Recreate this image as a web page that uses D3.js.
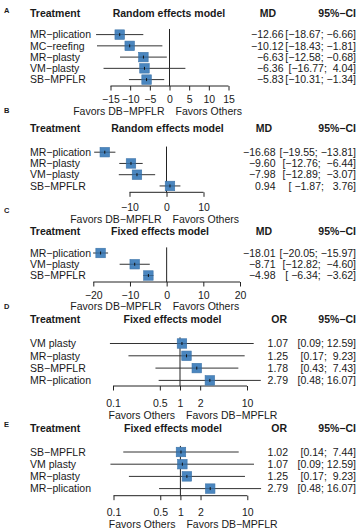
<!DOCTYPE html>
<html><head><meta charset="utf-8">
<script src="https://cdn.jsdelivr.net/npm/d3@7"></script>
<style>
html,body{margin:0;padding:0;background:#fff;}
svg text{font-family:"Liberation Sans",Arial,Helvetica,sans-serif;fill:#1a1a1a;white-space:pre;}
</style></head>
<body>
<svg id="chart" width="358" height="532" xml:space="preserve"></svg>
<script>
// ---------- DATA ----------
const treatA = ["MR−plication","MC−reefing","MR−plasty","VM−plasty","SB−MPFLR"];
const estA   = [-12.66,-10.12,-6.63,-6.36,-5.83];
const lowA   = [-18.67,-18.43,-12.58,-16.77,-10.31];
const upA    = [-6.66,-1.81,-0.68,4.04,-1.34];
const ticksA = [-15,-10,-5,0,5,10,15];

const treatB = ["MR−plication","MR−plasty","VM−plasty","SB−MPFLR"];
const estB   = [-16.68,-9.60,-7.98,0.94];
const lowB   = [-19.55,-12.76,-12.89,-1.87];
const upB    = [-13.81,-6.44,-3.07,3.76];
const ticksB = [-10,0,10];

const treatC = ["MR−plication","VM−plasty","SB−MPFLR"];
const estC   = [-18.01,-8.71,-4.98];
const lowC   = [-20.05,-12.82,-6.34];
const upC    = [-15.97,-4.60,-3.62];
const ticksC = [-20,-10,0,10,20];

const treatD = ["VM plasty","MR−plasty","SB−MPFLR","MR−plication"];
const estD   = [1.07,1.25,1.78,2.79];
const lowD   = [0.09,0.17,0.43,0.48];
const upD    = [12.59,9.23,7.43,16.07];
const ticksD = [0.1,0.5,1,2,10];

const treatE = ["SB−MPFLR","VM plasty","MR−plasty","MR−plication"];
const estE   = [1.02,1.07,1.25,2.79];
const lowE   = [0.14,0.09,0.17,0.48];
const upE    = [7.44,12.59,9.23,16.07];
const ticksE = [0.1,0.5,1,2,10];

const titleRandom = "Random effects model";
const titleFixed  = "Fixed effects model";
const favDB = "Favors DB−MPFLR", favOth = "Favors Others";

// ---------- LAYOUT ----------
const panels = [
 {letter:"A", treat:treatA, est:estA, low:lowA, up:upA, ticks:ticksA, log:false, domain:[-15,15], range:[110.5,228.5],
  title:titleRandom, stat:"MD", left:favDB, right:favOth,
  letterY:12.5, headY:16.5, row0:34.6, step:11.25, axisY:86, tickY:102.5, favY:114.5, titleX:169, valX:283.5, statX:276},
 {letter:"B", treat:treatB, est:estB, low:lowB, up:upB, ticks:ticksB, log:false, domain:[-10,10], range:[129.5,203.5],
  title:titleRandom, stat:"MD", left:favDB, right:favOth,
  letterY:113, headY:131.5, row0:152.2, step:11.25, axisY:192.3, tickY:211, favY:223, titleX:167.5, valX:275.5, statX:272},
 {letter:"C", treat:treatC, est:estC, low:lowC, up:upC, ticks:ticksC, log:false, domain:[-20,20], range:[93.3,240],
  title:titleFixed, stat:"MD", left:favDB, right:favOth,
  letterY:212.5, headY:235, row0:253, step:11.25, axisY:282, tickY:298.5, favY:310, titleX:160, valX:275.5, statX:272},
 {letter:"D", treat:treatD, est:estD, low:lowD, up:upD, ticks:ticksD, log:true, domain:[0.1,10], range:[113,247],
  title:titleFixed, stat:"OR", left:favOth, right:favDB,
  letterY:308.5, headY:322.7, row0:343.5, step:12.3, axisY:386, tickY:406.5, favY:418.5, titleX:172.5, valX:288, statX:287},
 {letter:"E", treat:treatE, est:estE, low:lowE, up:upE, ticks:ticksE, log:true, domain:[0.1,10], range:[113.5,247.3],
  title:titleFixed, stat:"OR", left:favOth, right:favDB,
  letterY:427, headY:431.7, row0:452, step:12.2, axisY:495.7, tickY:516.3, favY:528.3, titleX:173, valX:288, statX:287}
];

const FS = 10.5;
const svg = d3.select("#chart");
const f2 = d3.format(".2f");
const tickFmt = v => (v<0? "\u2212"+Math.abs(v) : String(v));

panels.forEach(p => {
  const g = svg.append("g");
  const x = (p.log ? d3.scaleLog() : d3.scaleLinear()).domain(p.domain).range(p.range);
  const refVal = p.log ? 1 : 0;
  const y = i => p.row0 + i*p.step;

  // letter
  g.append("text").attr("x",4).attr("y",p.letterY).attr("font-size",7.5).attr("font-weight","bold").text(p.letter);
  // headers
  g.append("text").attr("x",30).attr("y",p.headY).attr("font-size",FS).attr("font-weight","bold").text("Treatment");
  g.append("text").attr("x",p.titleX).attr("y",p.headY).attr("font-size",FS).attr("font-weight","bold").attr("text-anchor","middle").text(p.title);
  g.append("text").attr("x",p.statX).attr("y",p.headY).attr("font-size",FS).attr("font-weight","bold").attr("text-anchor","end").text(p.stat);
  g.append("text").attr("x",356).attr("y",p.headY).attr("font-size",FS).attr("font-weight","bold").attr("text-anchor","end").text("95%−CI");

  // reference line
  g.append("line").attr("x1",x(refVal)).attr("x2",x(refVal)).attr("y1",y(0)-p.step*0.5).attr("y2",p.axisY)
    .attr("stroke","#222").attr("stroke-width",1);

  // axis
  const axis = d3.axisBottom(x).tickValues(p.ticks).tickSize(4.5).tickFormat(tickFmt);
  const ag = g.append("g").attr("transform",`translate(0,${p.axisY})`).call(axis);
  ag.select(".domain").attr("stroke","#222").attr("d",`M${x(p.domain[0])},0H${x(p.domain[1])}`);
  ag.selectAll(".tick line").attr("stroke","#222");
  ag.selectAll(".tick text").attr("y",p.tickY-p.axisY).attr("dy",0).attr("font-size",FS)
    .style("font-family","Liberation Sans, Arial, sans-serif").attr("fill","#1a1a1a");

  // favors labels
  g.append("text").attr("x",x(refVal)-5).attr("y",p.favY).attr("font-size",FS).attr("text-anchor","end").text(p.left);
  g.append("text").attr("x",x(refVal)+6).attr("y",p.favY).attr("font-size",FS).attr("text-anchor","start").text(p.right);

  // CI strings padded
  const lowS = p.low.map(f2), upS = p.up.map(f2);
  const lw = d3.max(lowS, s=>s.length), uw = d3.max(upS, s=>s.length);

  p.treat.forEach((t,i) => {
    const yy = y(i);
    g.append("text").attr("x",30).attr("y",yy+3.7).attr("font-size",FS).text(t);
    g.append("line").attr("x1",x(p.low[i])).attr("x2",x(p.up[i])).attr("y1",yy).attr("y2",yy)
      .attr("stroke","#333").attr("stroke-width",1);
    const bs = 9.5;
    g.append("rect").attr("x",x(p.est[i])-bs/2).attr("y",yy-bs/2).attr("width",bs).attr("height",bs)
      .attr("fill","#4a86bf").attr("stroke","#3c73a8").attr("stroke-width",0.6);
    g.append("line").attr("x1",x(p.est[i])-bs/2).attr("x2",x(p.est[i])+bs/2).attr("y1",yy).attr("y2",yy)
      .attr("stroke","#1f3550").attr("stroke-width",0.6).attr("opacity",0.7);
    g.append("line").attr("x1",x(p.est[i])).attr("x2",x(p.est[i])).attr("y1",yy-1.5).attr("y2",yy+1.5)
      .attr("stroke","#111").attr("stroke-width",1);
    g.append("text").attr("x",p.valX).attr("y",yy+3.7).attr("font-size",FS).attr("text-anchor","end").text(f2(p.est[i]));
    const ci = "[" + lowS[i].padStart(lw," ") + "; " + upS[i].padStart(uw," ") + "]";
    g.append("text").attr("x",356).attr("y",yy+3.7).attr("font-size",FS).attr("text-anchor","end").text(ci);
  });
});
</script>
</body></html>
